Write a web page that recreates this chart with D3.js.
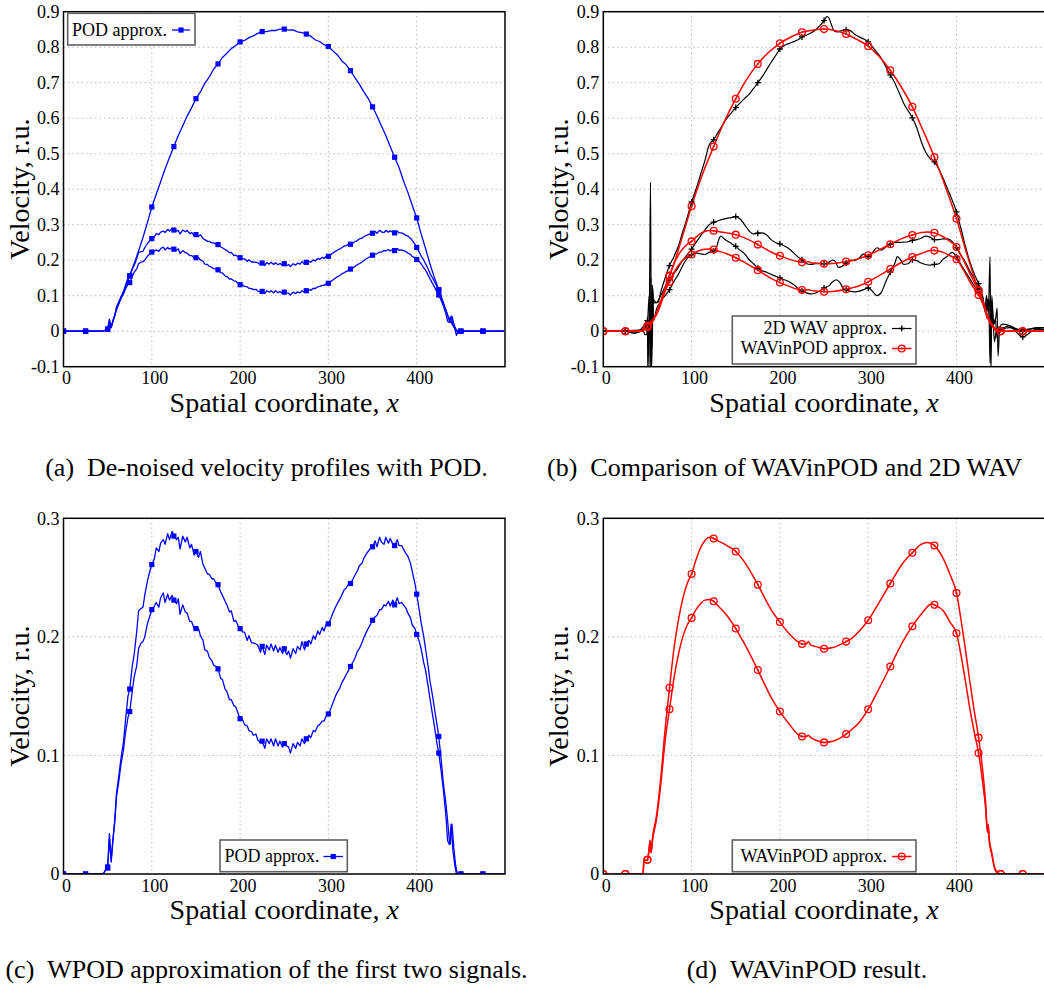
<!DOCTYPE html>
<html><head><meta charset="utf-8">
<script src="https://cdn.jsdelivr.net/npm/d3@7"></script>
<style>body{margin:0;background:#fff}svg{display:block}</style>
</head><body>
<svg id="chart" width="1044" height="992"></svg>
<script>
// ---------- tick values / labels ----------
const xTicks = [0, 100, 200, 300, 400];
const yTicksTop = [-0.1, 0, 0.1, 0.2, 0.3, 0.4, 0.5, 0.6, 0.7, 0.8, 0.9];
const yLabelsTop = ["-0.1", "0", "0.1", "0.2", "0.3", "0.4", "0.5", "0.6", "0.7", "0.8", "0.9"];
const yTicksBottom = [0, 0.1, 0.2, 0.3];
const yLabelsBottom = ["0", "0.1", "0.2", "0.3"];
const captions = ["(a)\u2002De-noised velocity profiles with POD.",
                  "(b)\u2002Comparison of WAVinPOD and 2D WAV",
                  "(c)\u2002WPOD approximation of the first two signals.",
                  "(d)\u2002WAVinPOD result."];
const xLabel = "Spatial coordinate, ";
const yLabel = "Velocity, r.u.";

// ---------- POD approximation (blue) ----------
const podBig = [[0,0],[25,0],[45,0],[48,0.003],[50,0.005],[52,0.018],[54,0.01],[56,0.028],[60,0.06],[65,0.092],[70,0.124],[75,0.156],[80,0.19],[85,0.226],[90,0.264],[95,0.306],[100,0.35],[105,0.386],[110,0.421],[115,0.457],[120,0.489],[125,0.52],[130,0.551],[135,0.578],[140,0.606],[145,0.629],[150,0.655],[155,0.674],[160,0.698],[165,0.716],[170,0.738],[175,0.753],[180,0.771],[185,0.783],[190,0.796],[195,0.805],[200,0.815],[205,0.819],[210,0.827],[215,0.832],[220,0.839],[225,0.844],[230,0.844],[235,0.847],[240,0.847],[245,0.851],[250,0.851],[255,0.848],[260,0.849],[265,0.843],[270,0.841],[275,0.837],[280,0.831],[285,0.821],[290,0.816],[295,0.807],[300,0.802],[305,0.79],[310,0.779],[315,0.762],[320,0.751],[325,0.734],[330,0.714],[335,0.696],[340,0.675],[345,0.656],[350,0.632],[355,0.606],[360,0.579],[365,0.551],[370,0.52],[375,0.49],[380,0.461],[385,0.424],[390,0.391],[395,0.354],[400,0.319],[405,0.274],[410,0.233],[415,0.19],[420,0.151],[425,0.117],[430,0.082],[435,0.045],[438,0.032],[440,0.02],[443,0.008],[445,-0.012],[447,0.002],[450,0],[475,0],[499,0]];

const podUpper = [[0,0],[25,0],[45,0],[48,0.004],[50,0.006],[52,0.034],[54,0.012],[56,0.03],[58,0.045],[60,0.068],[63,0.085],[65,0.097],[68,0.112],[70,0.128],[73,0.15],[75,0.156],[78,0.176],[80,0.185],[83,0.205],[85,0.222],[88,0.224],[90,0.225],[92,0.235],[95,0.247],[98,0.256],[100,0.261],[103,0.266],[105,0.275],[108,0.272],[110,0.279],[113,0.282],[115,0.278],[118,0.287],[120,0.282],[123,0.289],[125,0.285],[128,0.282],[130,0.284],[132,0.274],[135,0.285],[138,0.28],[140,0.284],[143,0.275],[145,0.278],[148,0.269],[150,0.272],[153,0.267],[155,0.272],[158,0.261],[160,0.258],[163,0.253],[165,0.253],[168,0.249],[170,0.249],[173,0.245],[175,0.244],[178,0.238],[180,0.235],[183,0.23],[185,0.227],[188,0.221],[190,0.222],[193,0.213],[195,0.214],[198,0.209],[200,0.207],[203,0.204],[205,0.204],[208,0.197],[210,0.201],[213,0.195],[215,0.195],[218,0.194],[220,0.193],[223,0.187],[225,0.192],[228,0.185],[230,0.193],[233,0.189],[235,0.194],[238,0.188],[240,0.193],[243,0.187],[245,0.191],[248,0.186],[250,0.19],[253,0.185],[255,0.188],[257,0.182],[260,0.19],[263,0.186],[265,0.192],[268,0.189],[270,0.196],[273,0.189],[275,0.194],[278,0.197],[280,0.194],[283,0.201],[285,0.198],[288,0.205],[290,0.202],[293,0.208],[295,0.205],[298,0.212],[300,0.211],[303,0.216],[305,0.22],[308,0.225],[310,0.228],[313,0.232],[315,0.235],[318,0.24],[320,0.241],[323,0.245],[325,0.245],[328,0.249],[330,0.252],[333,0.256],[335,0.26],[338,0.262],[340,0.266],[343,0.27],[345,0.272],[348,0.275],[350,0.276],[353,0.281],[355,0.276],[358,0.284],[360,0.28],[363,0.278],[365,0.284],[368,0.279],[370,0.283],[373,0.278],[375,0.277],[378,0.282],[380,0.277],[383,0.277],[385,0.274],[388,0.27],[390,0.268],[393,0.262],[395,0.255],[398,0.245],[400,0.236],[403,0.222],[405,0.212],[408,0.2],[410,0.19],[413,0.175],[415,0.163],[418,0.15],[420,0.14],[423,0.126],[425,0.116],[428,0.094],[430,0.078],[433,0.06],[435,0.045],[437,0.028],[438,0.025],[440,0.042],[442,0.022],[444,0.008],[446,0],[450,0],[475,0],[499,0]];

const podLower = [[0,0],[25,0],[45,0],[48,0.004],[50,0.005],[52,0.03],[54,0.01],[56,0.028],[58,0.043],[60,0.065],[63,0.08],[65,0.092],[68,0.105],[70,0.118],[73,0.132],[75,0.137],[78,0.155],[80,0.166],[83,0.176],[85,0.19],[88,0.195],[90,0.196],[92,0.2],[95,0.211],[98,0.218],[100,0.223],[103,0.226],[105,0.229],[108,0.225],[110,0.233],[113,0.237],[115,0.229],[118,0.236],[120,0.231],[123,0.235],[125,0.231],[128,0.228],[130,0.232],[132,0.219],[135,0.227],[138,0.221],[140,0.22],[143,0.213],[145,0.213],[148,0.207],[150,0.207],[153,0.207],[155,0.201],[158,0.197],[160,0.189],[163,0.188],[165,0.183],[168,0.18],[170,0.176],[173,0.175],[175,0.173],[178,0.165],[180,0.164],[183,0.156],[185,0.154],[188,0.147],[190,0.147],[193,0.142],[195,0.141],[198,0.135],[200,0.131],[203,0.13],[205,0.126],[208,0.125],[210,0.121],[213,0.12],[215,0.117],[218,0.118],[220,0.113],[223,0.111],[225,0.112],[228,0.106],[230,0.114],[233,0.11],[235,0.114],[238,0.108],[240,0.114],[243,0.108],[245,0.112],[248,0.107],[250,0.11],[253,0.108],[255,0.107],[257,0.102],[260,0.11],[263,0.106],[265,0.111],[268,0.108],[270,0.114],[273,0.11],[275,0.114],[278,0.117],[280,0.115],[283,0.121],[285,0.12],[288,0.125],[290,0.126],[293,0.129],[295,0.129],[298,0.134],[300,0.135],[303,0.14],[305,0.144],[308,0.15],[310,0.153],[313,0.157],[315,0.161],[318,0.165],[320,0.168],[323,0.172],[325,0.175],[328,0.179],[330,0.182],[333,0.188],[335,0.19],[338,0.195],[340,0.199],[343,0.204],[345,0.207],[348,0.211],[350,0.214],[353,0.217],[355,0.218],[358,0.223],[360,0.223],[363,0.227],[365,0.226],[368,0.23],[370,0.226],[373,0.231],[375,0.227],[378,0.233],[380,0.228],[383,0.229],[385,0.227],[388,0.224],[390,0.22],[393,0.216],[395,0.21],[398,0.207],[400,0.202],[403,0.196],[405,0.19],[408,0.178],[410,0.172],[413,0.158],[415,0.148],[418,0.134],[420,0.125],[423,0.11],[425,0.102],[428,0.085],[430,0.072],[433,0.05],[435,0.028],[437,0.025],[439,0.042],[441,0.02],[443,0.008],[445,0],[450,0],[475,0],[499,0]];

// ---------- WAVinPOD approximation (red) ----------
const wipBig = [[0,0],[25,0],[45,0.002],[48,0.01],[50,0.015],[53,0.02],[55,0.025],[60,0.05],[65,0.085],[70,0.12],[75,0.155],[80,0.19],[90,0.27],[100,0.352],[112,0.44],[125,0.52],[137,0.59],[150,0.655],[162,0.708],[175,0.753],[187,0.785],[200,0.811],[212,0.828],[225,0.842],[237,0.848],[250,0.851],[262,0.847],[275,0.837],[287,0.822],[300,0.803],[312,0.775],[325,0.735],[337,0.69],[350,0.632],[362,0.566],[375,0.49],[387,0.41],[400,0.317],[412,0.215],[425,0.115],[430,0.08],[435,0.045],[440,0.02],[445,0.005],[450,0],[475,0],[499,0]];

const wipUpper = [[0,0],[25,0],[45,0],[46,0.011],[50,0.012],[52,0.022],[53,0.028],[54,0.018],[56,0.032],[60,0.048],[65,0.08],[70,0.122],[75,0.157],[80,0.19],[85,0.214],[90,0.232],[95,0.245],[100,0.253],[105,0.265],[110,0.275],[115,0.281],[120,0.284],[125,0.283],[130,0.281],[140,0.277],[150,0.272],[160,0.263],[175,0.244],[190,0.223],[200,0.2125],[210,0.203],[220,0.196],[225,0.194],[230,0.194],[232,0.196],[235,0.193],[240,0.192],[250,0.19],[260,0.191],[275,0.196],[280,0.198],[290,0.205],[300,0.214],[310,0.226],[325,0.245],[340,0.263],[350,0.271],[360,0.278],[367,0.2795],[375,0.277],[385,0.266],[393,0.252],[400,0.237],[405,0.215],[410,0.19],[415,0.163],[420,0.138],[425,0.115],[430,0.085],[433,0.06],[435,0.037],[436,0.042],[437,0.03],[440,0.018],[443,0.006],[446,0.002],[450,0],[475,0],[499,0]];

const wipLower = [[0,0],[25,0],[45,0],[46,0.011],[50,0.012],[52,0.022],[53,0.028],[54,0.018],[56,0.03],[60,0.045],[65,0.075],[70,0.112],[75,0.139],[80,0.165],[85,0.185],[90,0.2],[95,0.21],[100,0.216],[105,0.223],[110,0.228],[115,0.231],[120,0.2315],[125,0.23],[130,0.226],[140,0.218],[150,0.207],[160,0.194],[175,0.172],[190,0.149],[200,0.137],[210,0.127],[220,0.118],[225,0.116],[230,0.116],[232,0.117],[235,0.115],[240,0.113],[250,0.111],[260,0.112],[275,0.118],[280,0.121],[290,0.128],[300,0.139],[310,0.153],[325,0.175],[340,0.197],[350,0.209],[360,0.219],[372,0.228],[375,0.227],[385,0.222],[393,0.212],[400,0.203],[405,0.185],[410,0.163],[415,0.14],[420,0.12],[425,0.102],[430,0.075],[433,0.055],[435,0.035],[436,0.04],[437,0.028],[440,0.016],[443,0.005],[446,0.001],[450,0],[475,0],[499,0]];

// ---------- 2D WAV approximation (black) ----------
const wavBig = [[0,0],[10,0],[20,0],[25,0],[30,-0.002],[35,-0.006],[40,0],[45,0.012],[47,0.02],[49,0.01],[50,0.015],[51,-0.02],[52,0.02],[53.5,0.42],[54.5,-0.13],[55.5,0.13],[57,0.08],[62,0.082],[65,0.11],[70,0.15],[75,0.185],[80,0.21],[85,0.24],[90,0.28],[95,0.32],[100,0.364],[105,0.4],[110,0.44],[115,0.48],[120,0.525],[125,0.539],[130,0.56],[135,0.58],[140,0.6],[145,0.615],[150,0.63],[155,0.643],[160,0.656],[165,0.667],[170,0.683],[175,0.7],[180,0.717],[185,0.737],[190,0.757],[195,0.776],[200,0.795],[205,0.805],[210,0.81],[215,0.815],[220,0.82],[225,0.829],[230,0.834],[235,0.84],[240,0.848],[245,0.86],[250,0.875],[253,0.886],[255,0.884],[258,0.866],[261,0.847],[265,0.843],[270,0.847],[275,0.849],[280,0.846],[285,0.836],[290,0.829],[295,0.823],[300,0.815],[305,0.8],[310,0.785],[315,0.768],[320,0.745],[325,0.722],[330,0.7],[335,0.672],[340,0.643],[345,0.622],[350,0.601],[355,0.573],[360,0.535],[365,0.505],[370,0.487],[375,0.477],[380,0.457],[385,0.43],[390,0.4],[395,0.37],[400,0.336],[405,0.29],[410,0.24],[415,0.197],[420,0.162],[425,0.134],[430,0.095],[432,0.06],[434,0.1],[436,0.05],[438,0.21],[439,-0.12],[440,0.08],[442,0.02],[444,0.03],[446,0.065],[447,-0.07],[449,0.01],[452,0.02],[458,0.018],[465,0.005],[470,-0.008],[475,-0.016],[480,-0.01],[485,0],[490,0.005],[499,0.005]];

const wavUpper = [[0,0],[25,0],[30,0.002],[40,0.003],[45,0.005],[47,0.015],[49,0.03],[50,0.03],[52,0.1],[53,-0.12],[54,0.15],[55,-0.05],[56.5,0.09],[60,0.08],[65,0.1],[70,0.125],[75,0.145],[80,0.162],[85,0.18],[90,0.2],[95,0.215],[100,0.231],[105,0.25],[110,0.268],[115,0.285],[120,0.3],[125,0.307],[130,0.311],[135,0.315],[140,0.318],[145,0.32],[150,0.323],[155,0.316],[160,0.3],[165,0.283],[170,0.274],[175,0.276],[180,0.277],[185,0.271],[190,0.258],[195,0.25],[200,0.246],[205,0.24],[210,0.233],[215,0.222],[220,0.21],[225,0.201],[230,0.19],[235,0.188],[240,0.19],[245,0.19],[250,0.19],[255,0.194],[260,0.2],[263,0.196],[266,0.18],[270,0.182],[275,0.192],[280,0.2],[285,0.199],[290,0.207],[295,0.218],[300,0.21],[305,0.222],[310,0.235],[315,0.228],[320,0.237],[325,0.245],[330,0.25],[335,0.25],[340,0.251],[345,0.252],[350,0.256],[355,0.258],[360,0.262],[365,0.268],[370,0.265],[375,0.258],[380,0.258],[385,0.26],[390,0.26],[395,0.253],[400,0.235],[405,0.213],[410,0.195],[415,0.17],[420,0.148],[425,0.12],[430,0.09],[433,0.05],[435,0.09],[437,0.03],[438,-0.09],[440,0.1],[442,0.02],[444,0.035],[446,-0.02],[448,0.012],[452,0.01],[460,0.015],[470,0.005],[475,0.004],[480,0.005],[490,0.008],[499,0.005]];

const wavLower = [[0,0],[25,0],[35,-0.005],[40,-0.003],[45,0.003],[47,-0.01],[49,-0.01],[50,0.01],[50.5,-0.12],[52,0.05],[53,0.02],[54.5,-0.12],[56,0.12],[57,0.03],[60,0.06],[65,0.085],[70,0.1],[75,0.117],[80,0.14],[85,0.16],[90,0.185],[95,0.205],[100,0.215],[105,0.22],[110,0.218],[115,0.216],[120,0.222],[125,0.226],[128,0.235],[131,0.26],[133,0.268],[137,0.26],[140,0.255],[145,0.247],[150,0.239],[155,0.228],[160,0.218],[165,0.202],[170,0.19],[175,0.178],[180,0.17],[185,0.166],[190,0.16],[195,0.155],[200,0.15],[205,0.145],[210,0.14],[215,0.132],[220,0.122],[225,0.113],[230,0.108],[235,0.105],[240,0.107],[245,0.113],[250,0.122],[255,0.127],[260,0.14],[264,0.145],[268,0.137],[272,0.12],[275,0.117],[280,0.112],[285,0.111],[290,0.113],[295,0.117],[300,0.122],[305,0.112],[310,0.1],[315,0.11],[320,0.14],[325,0.166],[330,0.19],[333,0.21],[337,0.2],[340,0.188],[345,0.19],[350,0.201],[355,0.199],[360,0.192],[365,0.188],[370,0.186],[375,0.188],[380,0.19],[385,0.203],[390,0.212],[395,0.222],[400,0.21],[405,0.188],[410,0.168],[415,0.148],[420,0.128],[425,0.11],[430,0.08],[435,0.06],[437,0.09],[439,0],[441,0.04],[443,-0.03],[445,0],[450,0.005],[460,0.01],[475,0],[490,0.01],[499,0.01]];

// ---------- drawing ----------
const FONT = "'Liberation Serif','Times New Roman',serif";
const BLUE = "#0000ff", RED = "#ff0000", BLACK = "#000000";
const svg = d3.select("#chart");
svg.append("rect").attr("width", 1044).attr("height", 992).attr("fill", "#fff");
const defs = svg.append("defs");

const styles = {
  pod: {color: BLUE, width: 1.3, curve: d3.curveLinear, marker: "square"},
  wip: {color: RED, width: 1.5, curve: d3.curveMonotoneX, marker: "circle"},
  wav: {color: BLACK, width: 1.2, curve: d3.curveMonotoneX, marker: "plus"}
};

function drawMarker(g, type, color, x, y) {
  if (type === "square") {
    g.append("rect").attr("x", x - 2.6).attr("y", y - 2.6).attr("width", 5.2).attr("height", 5.2).attr("fill", color);
  } else if (type === "circle") {
    g.append("circle").attr("cx", x).attr("cy", y).attr("r", 3.4).attr("fill", "none").attr("stroke", color).attr("stroke-width", 1.3);
    g.append("circle").attr("cx", x).attr("cy", y).attr("r", 1.0).attr("fill", color);
  } else {
    g.append("path").attr("d", `M${x-3},${y}H${x+3}M${x},${y-3}V${y+3}`).attr("stroke", color).attr("stroke-width", 1.3);
  }
}

function panel(id, cfg) {
  const W = 441.5;
  const x = d3.scaleLinear().domain([0, 500]).range([cfg.left, cfg.left + W]);
  const y = d3.scaleLinear().domain(cfg.yDomain).range([cfg.bottom, cfg.top]);
  const g = svg.append("g");
  defs.append("clipPath").attr("id", "clip" + id).append("rect")
    .attr("x", cfg.left).attr("y", cfg.top).attr("width", W).attr("height", cfg.bottom - cfg.top);

  // grid
  const grid = g.append("g").attr("stroke", "#b8b8b8").attr("stroke-width", 1).attr("stroke-dasharray", "1.5,3");
  xTicks.filter(t => t > 0).forEach(t => grid.append("line").attr("x1", x(t)).attr("x2", x(t)).attr("y1", cfg.top).attr("y2", cfg.bottom));
  cfg.yTicks.filter(t => t > cfg.yDomain[0] && t < cfg.yDomain[1]).forEach(t => grid.append("line").attr("x1", cfg.left).attr("x2", cfg.left + W).attr("y1", y(t)).attr("y2", y(t)));

  // axes (labels only)
  const xa = g.append("g").attr("transform", `translate(0,${cfg.bottom})`)
    .call(d3.axisBottom(x).tickValues(xTicks).tickSize(0).tickPadding(5).tickFormat(d3.format("d")));
  const ya = g.append("g").attr("transform", `translate(${cfg.left},0)`)
    .call(d3.axisLeft(y).tickValues(cfg.yTicks).tickSize(0).tickPadding(4).tickFormat((d, i) => cfg.yLabels[i]));
  [xa, ya].forEach(a => {
    a.select(".domain").remove();
    a.selectAll("text").attr("font-family", FONT).attr("font-size", 18).attr("fill", "#000");
  });
  xa.selectAll("text").attr("dx", 2.5);

  // series
  const plot = g.append("g").attr("clip-path", `url(#clip${id})`);
  cfg.series.forEach(s => {
    const st = styles[s.style];
    const line = d3.line().x(d => x(d[0])).y(d => y(d[1])).curve(st.curve);
    plot.append("path").attr("d", line(s.data)).attr("fill", "none")
      .attr("stroke", st.color).attr("stroke-width", st.width).attr("stroke-linejoin", "round");
  });
  cfg.series.forEach(s => {
    const st = styles[s.style];
    s.data.filter(d => d[0] % 25 === 0).forEach(d => drawMarker(plot, st.marker, st.color, x(d[0]), y(d[1])));
  });

  // frame
  g.append("rect").attr("x", cfg.left).attr("y", cfg.top).attr("width", W).attr("height", cfg.bottom - cfg.top)
    .attr("fill", "none").attr("stroke", "#000").attr("stroke-width", 1.5);

  // axis titles
  const xt = g.append("text").attr("x", cfg.left + W / 2).attr("y", cfg.bottom + 45)
    .attr("text-anchor", "middle").attr("font-family", FONT).attr("font-size", 28).attr("fill", "#000");
  xt.append("tspan").text(xLabel);
  xt.append("tspan").attr("font-style", "italic").text("x");
  g.append("text").attr("transform", `translate(${cfg.left - 35},${(cfg.top + cfg.bottom) / 2}) rotate(-90)`)
    .attr("text-anchor", "middle").attr("font-family", FONT).attr("font-size", 28).attr("fill", "#000").text(yLabel);

  // legend
  const L = cfg.legend;
  const lg = g.append("g");
  lg.append("rect").attr("x", L.x).attr("y", L.y).attr("width", L.w).attr("height", L.h)
    .attr("fill", "#fff").attr("stroke", "#606060").attr("stroke-width", 1.6);
  L.rows.forEach((r, i) => {
    const by = L.baseline + i * 20;
    lg.append("text").attr("x", L.textX).attr("y", by).attr("text-anchor", L.anchor)
      .attr("font-family", FONT).attr("font-size", 18).attr("fill", "#000").text(r.label);
    const st = styles[r.style];
    const ly = by - 5.5;
    lg.append("line").attr("x1", L.lx1).attr("x2", L.lx2).attr("y1", ly).attr("y2", ly)
      .attr("stroke", st.color).attr("stroke-width", st.width);
    drawMarker(lg, st.marker, st.color, (L.lx1 + L.lx2) / 2, ly);
  });

  // caption
  svg.append("text").attr("x", cfg.capX).attr("y", cfg.capY).attr("text-anchor", cfg.capAnchor)
    .attr("font-family", FONT).attr("font-size", 26).attr("fill", "#000").text(cfg.caption);
}

panel("a", {left: 63.5, top: 11.7, bottom: 366.7, yDomain: [-0.1, 0.9], yTicks: yTicksTop, yLabels: yLabelsTop,
  series: [{data: podBig, style: "pod"}, {data: podUpper, style: "pod"}, {data: podLower, style: "pod"}],
  legend: {x: 67.7, y: 13.3, w: 127.3, h: 31.7, textX: 72, anchor: "start", baseline: 35.5, lx1: 172, lx2: 190,
           rows: [{label: "POD approx.", style: "pod"}]},
  caption: captions[0], capX: 266.5, capY: 476, capAnchor: "middle"});

panel("b", {left: 603.3, top: 11.7, bottom: 366.7, yDomain: [-0.1, 0.9], yTicks: yTicksTop, yLabels: yLabelsTop,
  series: [{data: wavBig, style: "wav"}, {data: wavUpper, style: "wav"}, {data: wavLower, style: "wav"},
           {data: wipBig, style: "wip"}, {data: wipUpper, style: "wip"}, {data: wipLower, style: "wip"}],
  legend: {x: 732.3, y: 316, w: 183.7, h: 48, textX: 887, anchor: "end", baseline: 334, lx1: 892, lx2: 911.5,
           rows: [{label: "2D WAV approx.", style: "wav"}, {label: "WAVinPOD approx.", style: "wip"}]},
  caption: captions[1], capX: 547, capY: 476, capAnchor: "start"});

panel("c", {left: 63.5, top: 518.3, bottom: 874, yDomain: [0, 0.3], yTicks: yTicksBottom, yLabels: yLabelsBottom,
  series: [{data: podUpper, style: "pod"}, {data: podLower, style: "pod"}],
  legend: {x: 220, y: 840, w: 127.3, h: 31.7, textX: 224.5, anchor: "start", baseline: 862, lx1: 323.5, lx2: 343,
           rows: [{label: "POD approx.", style: "pod"}]},
  caption: captions[2], capX: 266.5, capY: 978, capAnchor: "middle"});

panel("d", {left: 603.3, top: 518.3, bottom: 874, yDomain: [0, 0.3], yTicks: yTicksBottom, yLabels: yLabelsBottom,
  series: [{data: wipUpper, style: "wip"}, {data: wipLower, style: "wip"}],
  legend: {x: 732.3, y: 840, w: 183.7, h: 31.7, textX: 887, anchor: "end", baseline: 862, lx1: 892, lx2: 911.5,
           rows: [{label: "WAVinPOD approx.", style: "wip"}]},
  caption: captions[3], capX: 807, capY: 978, capAnchor: "middle"});
</script>
</body></html>
